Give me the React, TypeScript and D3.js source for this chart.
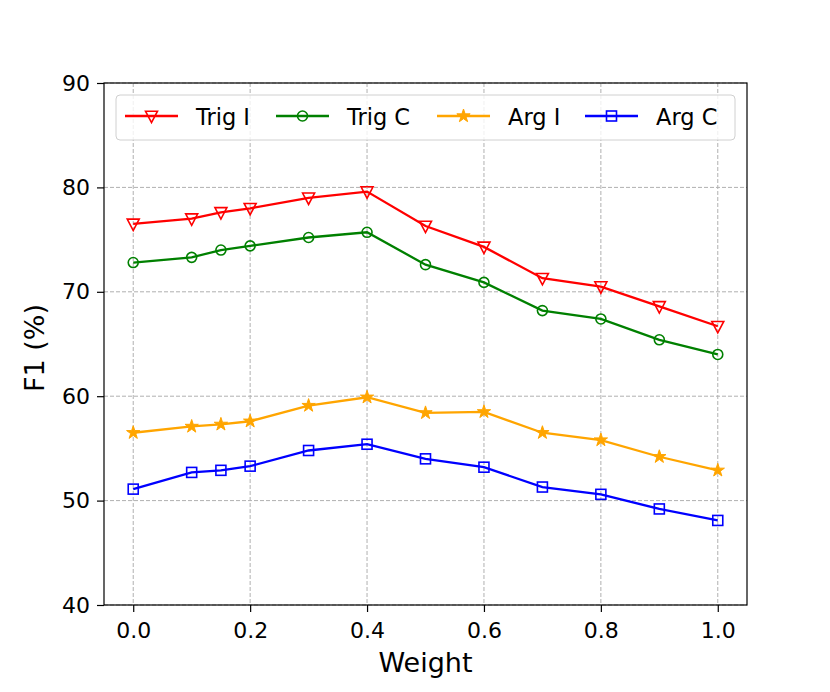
import React, { useEffect, useRef } from 'react';
import * as d3 from 'd3';

const weights = [0, 0.1, 0.15, 0.2, 0.3, 0.4, 0.5, 0.6, 0.7, 0.8, 0.9, 1.0];
const trigI = [76.5, 77.0, 77.6, 78.0, 79.0, 79.6, 76.3, 74.3, 71.3, 70.5, 68.6, 66.7];
const trigC = [72.8, 73.3, 74.0, 74.4, 75.2, 75.7, 72.6, 70.9, 68.2, 67.4, 65.4, 64.0];
const argI = [56.5, 57.1, 57.3, 57.6, 59.1, 59.9, 58.4, 58.5, 56.5, 55.8, 54.2, 52.9];
const argC = [51.1, 52.7, 52.9, 53.3, 54.8, 55.4, 54.0, 53.2, 51.3, 50.6, 49.2, 48.1];
const seriesNames = ['Trig I', 'Trig C', 'Arg I', 'Arg C'];
const seriesColors = ['#ff0000', '#008000', '#ffa500', '#0000ff'];
const seriesMarkers = ['triangleDown', 'circle', 'star', 'square'];
const xTicks = [0, 0.2, 0.4, 0.6, 0.8, 1.0];
const yTicks = [40, 50, 60, 70, 80, 90];

const font = 'DejaVu Sans, sans-serif';

function drawMarker(g: any, kind: string, x: number, y: number, color: string) {
  if (kind === 'circle') {
    g.append('circle').attr('cx', x).attr('cy', y).attr('r', 5)
      .attr('fill', 'none').attr('stroke', color).attr('stroke-width', 1.6);
  } else if (kind === 'square') {
    g.append('rect').attr('x', x - 5).attr('y', y - 5).attr('width', 10).attr('height', 10)
      .attr('fill', 'none').attr('stroke', color).attr('stroke-width', 1.6);
  } else if (kind === 'triangleDown') {
    const s = 6;
    g.append('path')
      .attr('d', `M${x - s},${y - s * 0.8}L${x + s},${y - s * 0.8}L${x},${y + s * 1.1}Z`)
      .attr('fill', 'none').attr('stroke', color).attr('stroke-width', 1.6);
  } else if (kind === 'star') {
    g.append('path')
      .attr('d', d3.symbol(d3.symbolStar, 55)())
      .attr('transform', `translate(${x},${y})`)
      .attr('fill', color).attr('stroke', color).attr('stroke-width', 1);
  }
}

export default function App() {
  const svgRef = useRef<SVGSVGElement>(null);

  useEffect(() => {
    const svg = d3.select(svgRef.current);
    svg.selectAll('*').remove();

    const margin = { left: 104, top: 83, right: 747, bottom: 605 };
    const x = d3.scaleLinear().domain([-0.05, 1.05]).range([margin.left, margin.right]);
    const y = d3.scaleLinear().domain([40, 90]).range([margin.bottom, margin.top]);

    // grid
    const grid = svg.append('g');
    xTicks.forEach((t) => {
      grid.append('line').attr('x1', x(t)).attr('x2', x(t)).attr('y1', margin.top).attr('y2', margin.bottom)
        .attr('stroke', '#b0b0b0').attr('stroke-width', 1).attr('stroke-dasharray', '4,2');
    });
    yTicks.forEach((t) => {
      grid.append('line').attr('y1', y(t)).attr('y2', y(t)).attr('x1', margin.left).attr('x2', margin.right)
        .attr('stroke', '#b0b0b0').attr('stroke-width', 1).attr('stroke-dasharray', '4,2');
    });

    // lines
    const allSeries = [trigI, trigC, argI, argC];
    const line = d3.line<number>().x((d, i) => x(weights[i])).y((d) => y(d));
    allSeries.forEach((vals, si) => {
      const g = svg.append('g');
      g.append('path').attr('d', line(vals)).attr('fill', 'none')
        .attr('stroke', seriesColors[si]).attr('stroke-width', 2.3);
      vals.forEach((v, i) => drawMarker(g, seriesMarkers[si], x(weights[i]), y(v), seriesColors[si]));
    });

    // frame
    svg.append('rect').attr('x', margin.left).attr('y', margin.top)
      .attr('width', margin.right - margin.left).attr('height', margin.bottom - margin.top)
      .attr('fill', 'none').attr('stroke', 'black').attr('stroke-width', 1.2);

    // axes
    const xAxis = svg.append('g').attr('transform', `translate(0,${margin.bottom})`)
      .call(d3.axisBottom(x).tickValues(xTicks).tickFormat(d3.format('.1f')).tickSizeOuter(0).tickSize(7));
    const yAxis = svg.append('g').attr('transform', `translate(${margin.left},0)`)
      .call(d3.axisLeft(y).tickValues(yTicks).tickFormat(d3.format('d')).tickSizeOuter(0).tickSize(7));
    [xAxis, yAxis].forEach((a) => {
      a.select('.domain').remove();
      a.selectAll('text').attr('font-family', font).attr('font-size', 22).attr('fill', 'black');
      a.selectAll('line').attr('stroke', 'black').attr('stroke-width', 1.2);
    });
    xAxis.selectAll('text').attr('dy', 0).attr('y', 33);
    yAxis.selectAll('text').attr('x', -14);

    svg.append('text').attr('x', (margin.left + margin.right) / 2).attr('y', 672)
      .attr('text-anchor', 'middle').attr('font-family', font).attr('font-size', 27).text('Weight');
    svg.append('text').attr('transform', `translate(44,${(margin.top + margin.bottom) / 2 + 4}) rotate(-90)`)
      .attr('text-anchor', 'middle').attr('font-family', font).attr('font-size', 27).text('F1 (%)');

    // legend
    const legend = svg.append('g');
    legend.append('rect').attr('x', 116).attr('y', 95).attr('width', 619).attr('height', 45)
      .attr('rx', 4).attr('fill', 'white').attr('fill-opacity', 0.8).attr('stroke', '#d0d0d0');
    const itemX = [125, 276, 437, 585];
    seriesNames.forEach((name, i) => {
      const lx = itemX[i];
      const ly = 116;
      legend.append('line').attr('x1', lx).attr('x2', lx + 53).attr('y1', ly).attr('y2', ly)
        .attr('stroke', seriesColors[i]).attr('stroke-width', 2.3);
      drawMarker(legend, seriesMarkers[i], lx + 26.5, ly, seriesColors[i]);
      legend.append('text').attr('x', lx + 71).attr('y', 125).attr('font-family', font)
        .attr('font-size', 22.5).text(name);
    });
  }, []);

  return (
    <div>
      <svg ref={svgRef} width={830} height={692} style={{ position: 'absolute', left: 0, top: 0 }} />
    </div>
  );
}
